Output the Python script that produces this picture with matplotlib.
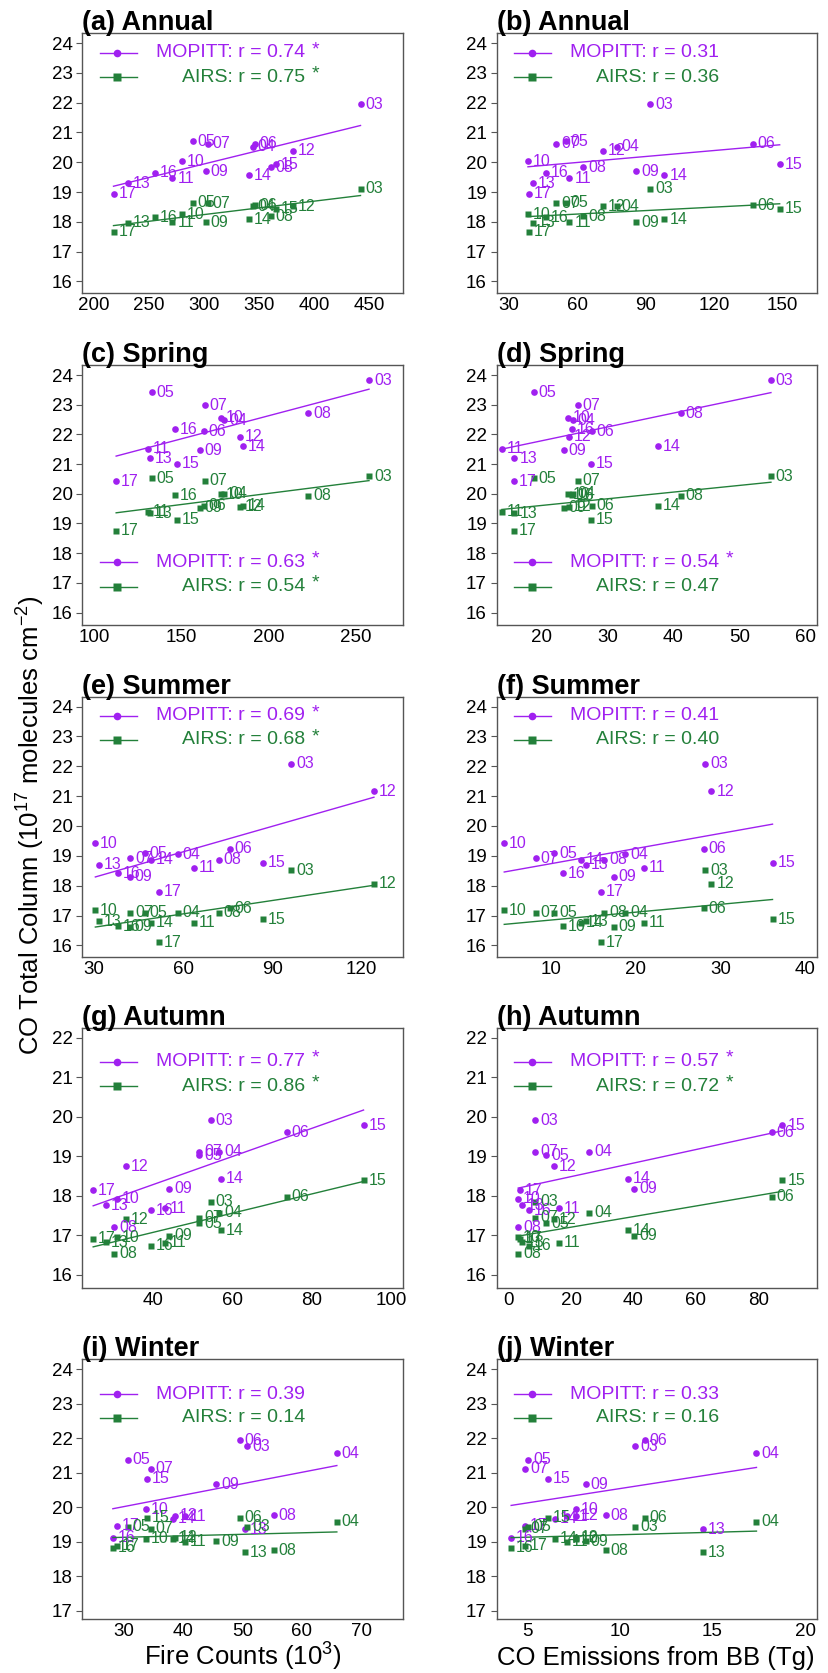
import numpy as np
import matplotlib
matplotlib.use('Agg')
import matplotlib.pyplot as plt

plt.rcParams['font.family'] = ['Liberation Sans', 'DejaVu Sans']
plt.rcParams['mathtext.fontset'] = 'custom'
plt.rcParams['mathtext.rm'] = 'Liberation Sans'

years = ['03', '04', '05', '06', '07', '08', '09', '10', '11', '12', '13', '14', '15', '16', '17']

# Annual
fire_ann = [442.4, 344.5, 289.7, 346.0, 303.4, 360.6, 301.6, 279.7, 271.2, 381.0, 230.4, 340.5, 365.1, 255.7, 217.6]
emis_ann = [92.0, 77.4, 55.0, 136.9, 51.0, 62.8, 85.9, 38.5, 56.7, 71.3, 40.5, 98.3, 148.8, 46.2, 38.8]
mop_ann = [21.95, 20.52, 20.70, 20.62, 20.62, 19.83, 19.70, 20.04, 19.47, 20.39, 19.29, 19.57, 19.93, 19.65, 18.94]
airs_ann = [19.11, 18.52, 18.64, 18.55, 18.62, 18.18, 17.98, 18.26, 17.99, 18.52, 17.97, 18.08, 18.44, 18.16, 17.66]

# Spring
fire_spr = [257.5, 174.6, 132.9, 162.9, 163.5, 222.6, 160.6, 172.5, 130.6, 183.4, 131.8, 185.1, 147.3, 146.1, 112.6]
emis_spr = [54.8, 24.75, 18.79, 27.6, 25.5, 41.1, 23.4, 24.0, 13.98, 24.1, 15.9, 37.7, 27.5, 24.55, 15.75]
mop_spr = [23.82, 22.48, 23.42, 22.11, 22.99, 22.72, 21.47, 22.56, 21.52, 21.93, 21.19, 21.61, 21.01, 22.17, 20.43]
airs_spr = [20.59, 20.01, 20.52, 19.60, 20.44, 19.93, 19.53, 19.99, 19.39, 19.56, 19.35, 19.60, 19.12, 19.96, 18.76]

# Summer
fire_sum = [96.5, 58.2, 47.1, 75.7, 42.2, 72.0, 42.0, 30.4, 63.6, 124.3, 31.5, 49.1, 86.9, 37.9, 51.9]
emis_sum = [28.23, 18.74, 10.39, 28.03, 8.23, 16.3, 17.44, 4.49, 20.98, 28.94, 14.09, 13.54, 36.14, 11.38, 15.94]
mop_sum = [22.09, 19.06, 19.08, 19.24, 18.92, 18.86, 18.30, 19.42, 18.60, 21.16, 18.70, 18.86, 18.76, 18.42, 17.80]
airs_sum = [18.52, 17.09, 17.10, 17.25, 17.10, 17.09, 16.62, 17.18, 16.76, 18.06, 16.81, 16.76, 16.88, 16.64, 16.10]

# Autumn
fire_aut = [54.5, 56.6, 51.6, 73.7, 51.6, 30.06, 44.0, 30.65, 42.9, 33.1, 28.0, 57.0, 93.1, 39.3, 24.75]
emis_aut = [8.53, 25.9, 12.05, 84.2, 8.53, 3.09, 40.2, 3.09, 16.2, 14.5, 4.16, 38.2, 87.7, 6.4, 3.73]
mop_aut = [19.91, 19.11, 19.03, 19.61, 19.11, 17.21, 18.18, 17.92, 17.68, 18.75, 17.76, 18.43, 19.79, 17.63, 18.14]
airs_aut = [17.85, 17.57, 17.31, 17.98, 17.44, 16.53, 16.99, 16.95, 16.81, 17.41, 16.83, 17.13, 18.40, 16.74, 16.92]

# Winter
fire_win = [50.8, 65.9, 30.7, 49.55, 34.5, 55.3, 45.6, 33.8, 40.3, 38.6, 50.4, 38.3, 33.9, 28.15, 28.8]
emis_win = [10.82, 17.37, 5.05, 11.34, 4.91, 9.25, 8.17, 7.65, 7.13, 7.65, 14.46, 6.52, 6.11, 4.14, 4.86]
mop_win = [21.77, 21.56, 21.37, 21.94, 21.12, 19.77, 20.67, 19.94, 19.74, 19.76, 19.36, 19.67, 20.82, 19.11, 19.46]
airs_win = [19.43, 19.58, 19.43, 19.70, 19.38, 18.75, 19.01, 19.08, 19.00, 19.12, 18.70, 19.09, 19.70, 18.83, 18.88]

# correlation text shown in the legends: (MOPITT r, significant, AIRS r, significant)
r_fire = [('0.74', True, '0.75', True), ('0.63', True, '0.54', True), ('0.69', True, '0.68', True),
          ('0.77', True, '0.86', True), ('0.39', False, '0.14', False)]
r_emis = [('0.31', False, '0.36', False), ('0.54', True, '0.47', False), ('0.41', False, '0.40', False),
          ('0.57', True, '0.72', True), ('0.33', False, '0.16', False)]

seasons = ['Annual', 'Spring', 'Summer', 'Autumn', 'Winter']
letters = 'abcdefghij'

purple = '#A020F0'
green = '#23803A'
frame = '#555555'

fig = plt.figure(figsize=(8.29, 16.73), dpi=100)

W, H = 829., 1673.
col_left = [82.3, 496.7]
ax_w = 320.4
row_top = [33.3, 365.0, 697.3, 1028.3, 1359.3]
ax_h = 260.0

ylims = [(15.6, 24.33), (15.58, 24.34), (15.6, 24.31), (15.66, 22.24), (16.75, 24.29)]
yticks = [range(16, 25), range(16, 25), range(16, 25), range(16, 23), range(17, 25)]
xlims_fire = [(189.2, 480.8), (93.2, 276.8), (26, 134), (22, 103), (23, 77)]
xticks_fire = [range(200, 451, 50), range(100, 251, 50), range(30, 121, 30), range(40, 101, 20), range(30, 71, 10)]
xlims_emis = [(24.8, 165.2), (13.2, 61.8), (3.6, 41.4), (-3.8, 98.8), (3.36, 20.64)]
xticks_emis = [range(30, 151, 30), range(20, 61, 10), range(10, 41, 10), range(0, 81, 20), range(5, 21, 5)]
leg_y = [(0.925, 0.831), (0.241, 0.148), (0.929, 0.836), (0.872, 0.778), (0.866, 0.775)]

fire = [fire_ann, fire_spr, fire_sum, fire_aut, fire_win]
emis = [emis_ann, emis_spr, emis_sum, emis_aut, emis_win]
mop = [mop_ann, mop_spr, mop_sum, mop_aut, mop_win]
airs = [airs_ann, airs_spr, airs_sum, airs_aut, airs_win]


def draw_panel(ax, x, ym, ya, rr, xlim, xt, ylim, yt, title, ly):
    x = np.array(x)
    series = [(np.array(ym), purple, 'o', 'MOPITT', rr[0], rr[1], ly[0]),
              (np.array(ya), green, 's', 'AIRS', rr[2], rr[3], ly[1])]
    for y, c, mk, name, r, sig, yl in series:
        ax.plot(x, y, mk, color=c, ms=4.8, mec='none', ls='none', clip_on=False)
        for xi, yi, lab in zip(x, y, years):
            ax.annotate(lab, (xi, yi), xytext=(3.5, 0), textcoords='offset points',
                        va='center', ha='left', fontsize=11.5, color=c)
        # least squares line over the data range
        k, b = np.polyfit(x, y, 1)
        xx = np.array([x.min(), x.max()])
        ax.plot(xx, k * xx + b, color=c, lw=1)
        # legend entry
        ax.plot([0.055, 0.17], [yl, yl], color=c, lw=1, transform=ax.transAxes)
        ax.plot([0.109], [yl], mk, color=c, ms=5.5, mec='none', transform=ax.transAxes)
        ax.text(0.695, yl, '%s: r = %s' % (name, r), ha='right', va='center',
                fontsize=14, color=c, transform=ax.transAxes)
        if sig:
            ax.text(0.715, yl + 0.012, '*', ha='left', va='center',
                    fontsize=14, color=c, transform=ax.transAxes)

    ax.set_xlim(xlim)
    ax.set_ylim(ylim)
    ax.set_xticks(list(xt))
    ax.set_yticks(list(yt))
    ax.tick_params(axis='y', direction='out', length=4, width=0.8, color=frame,
                   labelsize=13.5, pad=3)
    ax.tick_params(axis='x', length=0, labelsize=13.5, pad=3)
    for s in ax.spines.values():
        s.set_color(frame)
        s.set_linewidth(1)
    ax.text(0.0, 1.012, title, transform=ax.transAxes, ha='left', va='baseline',
            fontsize=19.5, fontweight='bold')


for i in range(5):
    for j in range(2):
        ax = fig.add_axes([col_left[j] / W, 1 - (row_top[i] + ax_h) / H, ax_w / W, ax_h / H])
        if j == 0:
            draw_panel(ax, fire[i], mop[i], airs[i], r_fire[i], xlims_fire[i], xticks_fire[i],
                       ylims[i], yticks[i], '(%s) %s' % (letters[2 * i], seasons[i]), leg_y[i])
        else:
            draw_panel(ax, emis[i], mop[i], airs[i], r_emis[i], xlims_emis[i], xticks_emis[i],
                       ylims[i], yticks[i], '(%s) %s' % (letters[2 * i + 1], seasons[i]), leg_y[i])

fig.text(0.036, 1 - 825 / H, r'CO Total Column (10$^{17}$ molecules cm$^{-2}$)', rotation=90,
         ha='center', va='center', fontsize=18.5)
fig.text(242.5 / W, 0.005, r'Fire Counts (10$^{3}$)', ha='center', va='baseline', fontsize=18.5)
fig.text(656 / W, 0.005, 'CO Emissions from BB (Tg)', ha='center', va='baseline', fontsize=18.5)

fig.savefig('out.png', dpi=100)
